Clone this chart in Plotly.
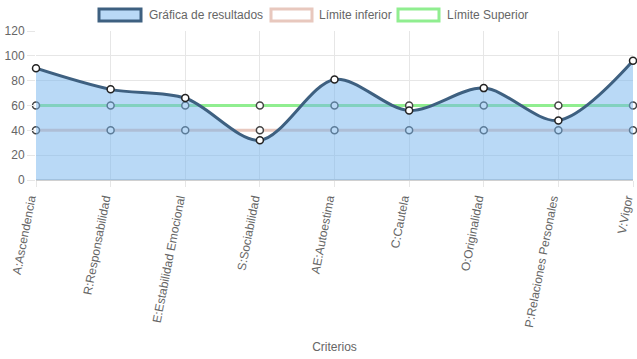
import plotly.graph_objects as go

categories = ["A:Ascendencia", "R:Responsabilidad", "E:Estabilidad Emocional", "S:Sociabilidad",
              "AE:Autoestima", "C:Cautela", "O:Originalidad", "P:Relaciones Personales", "V:Vigor"]
resultados = [90, 73, 66, 32, 81, 56, 74, 48, 96]
limite_inferior = [40, 40, 40, 40, 40, 40, 40, 40, 40]
limite_superior = [60, 60, 60, 60, 60, 60, 60, 60, 60]
y_ticks = [0, 20, 40, 60, 80, 100, 120]

W, H = 637, 359
L, R, T, B = 36, 4, 31, 179
pw, ph = W - L - R, H - T - B

def px(x):
    return (x - L) / pw

def py(y):
    return (H - B - y) / ph

xs = list(range(len(categories)))
font = "Liberation Sans, Arial, Helvetica, sans-serif"
grey = "#666666"

pink = "rgb(232,200,190)"
green = "rgb(144,238,144)"
dark = "rgb(62,96,128)"
fillc = "rgba(115,179,237,0.5)"

fig = go.Figure()
fig.add_trace(go.Scatter(x=xs, y=limite_inferior, mode="lines+markers", name="Límite inferior",
                         line=dict(color=pink, width=3),
                         marker=dict(size=7, color="white", line=dict(color="#444", width=1.5)),
                         cliponaxis=False, showlegend=False))
fig.add_trace(go.Scatter(x=xs, y=limite_superior, mode="lines+markers", name="Límite Superior",
                         line=dict(color=green, width=3),
                         marker=dict(size=7, color="white", line=dict(color="#444", width=1.5)),
                         cliponaxis=False, showlegend=False))
fig.add_trace(go.Scatter(x=xs, y=resultados, mode="lines+markers", name="Gráfica de resultados",
                         line=dict(color=dark, width=3, shape="spline", smoothing=0.9),
                         fill="tozeroy", fillcolor=fillc,
                         marker=dict(size=7, color="white", line=dict(color="#222", width=1.5)),
                         cliponaxis=False, showlegend=False))

# custom legend (chart.js style boxes)
legend_items = [("Gráfica de resultados", fillc, dark, 99, 141, 147),
                ("Límite inferior", "white", pink, 271, 312, 317),
                ("Límite Superior", "white", green, 398, 439, 445)]
shapes = []
annotations = []
for label, fc, lc, x0, x1, tx in legend_items:
    shapes.append(dict(type="rect", xref="paper", yref="paper",
                       x0=px(x0), x1=px(x1), y0=py(21), y1=py(9),
                       fillcolor=fc, line=dict(color=lc, width=3), layer="above"))
    annotations.append(dict(text=label, xref="paper", yref="paper", x=px(tx), y=py(15),
                            xanchor="left", yanchor="middle", showarrow=False,
                            font=dict(family=font, size=12, color=grey)))

fig.update_layout(
    width=W, height=H,
    margin=dict(l=L, r=R, t=T, b=B, autoexpand=False),
    paper_bgcolor="white", plot_bgcolor="white",
    font=dict(family=font, size=12, color=grey),
    shapes=shapes, annotations=annotations,
    showlegend=False,
)
fig.update_xaxes(range=[0, len(categories) - 1], tickmode="array", tickvals=xs, ticktext=categories,
                 tickangle=-79, showgrid=True, gridcolor="#e6e6e6", gridwidth=1,
                 ticks="outside", ticklen=6, tickcolor="#e6e6e6", ticklabeloverflow="allow",
                 ticklabelshift=-6,
                 showline=False, zeroline=False, automargin=False,
                 title=dict(text="Criterios", font=dict(family=font, size=12, color=grey), standoff=14),
                 tickfont=dict(family=font, size=12, color=grey))
fig.update_yaxes(range=[0, 120], tickmode="array", tickvals=y_ticks,
                 showgrid=True, gridcolor="#e6e6e6", gridwidth=1,
                 ticks="outside", ticklen=8, tickcolor="#e6e6e6",
                 zeroline=True, zerolinecolor="#d0d0d0", zerolinewidth=2,
                 showline=False, automargin=False,
                 tickfont=dict(family=font, size=12, color=grey))

fig.write_html("out.html", config={"displayModeBar": False},
               post_script="document.body.style.margin='0';document.body.style.overflow='hidden';")
